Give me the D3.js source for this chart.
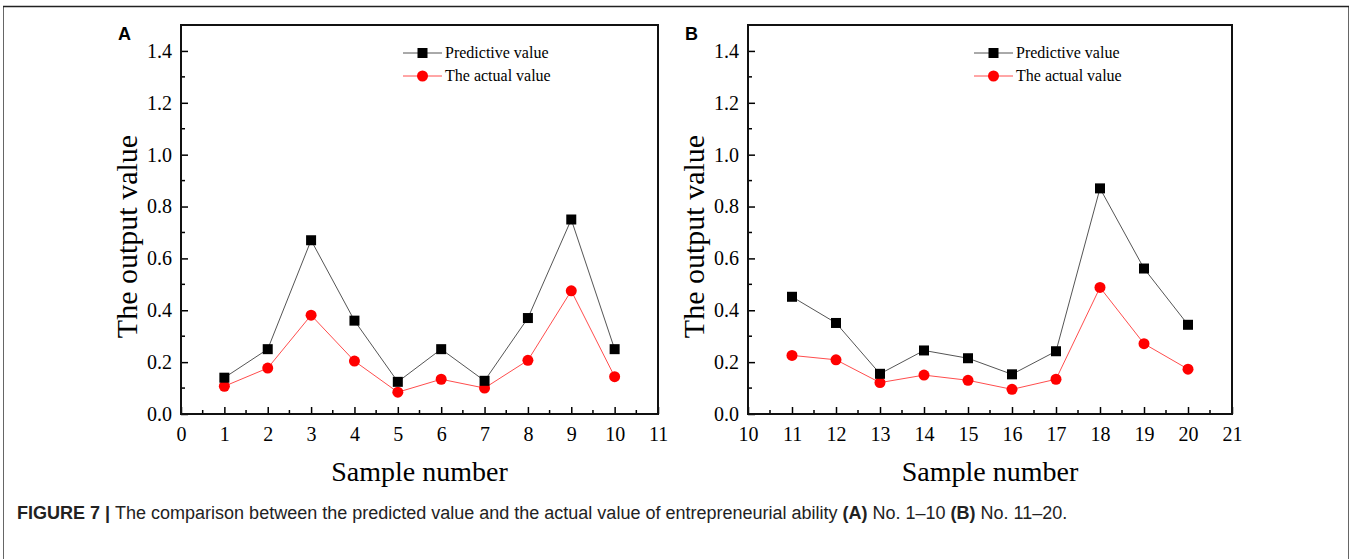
<!DOCTYPE html>
<html>
<head>
<meta charset="utf-8">
<script src="https://cdn.jsdelivr.net/npm/d3@7"></script>
<style>
  body { margin: 0; background: #fff; }
  svg { display: block; }
</style>
</head>
<body>
<div id="chart-area"></div>
<script>
// data
var samplesA = [1, 2, 3, 4, 5, 6, 7, 8, 9, 10];
var predictedA = [0.14, 0.25, 0.67, 0.36, 0.124, 0.25, 0.128, 0.37, 0.75, 0.25];
var actualA = [0.107, 0.177, 0.381, 0.204, 0.084, 0.134, 0.100, 0.207, 0.475, 0.144];

var samplesB = [11, 12, 13, 14, 15, 16, 17, 18, 19, 20];
var predictedB = [0.452, 0.351, 0.155, 0.245, 0.215, 0.153, 0.242, 0.87, 0.561, 0.344];
var actualB = [0.226, 0.209, 0.121, 0.150, 0.130, 0.095, 0.134, 0.488, 0.271, 0.173];

var yTicks = [0, 0.2, 0.4, 0.6, 0.8, 1.0, 1.2, 1.4];
var legendLabels = ["Predictive value", "The actual value"];

var W = 1352, H = 559;
var serif = "'Liberation Serif', 'Times New Roman', serif";
var sans = "'Liberation Sans', Arial, sans-serif";

var svg = d3.select("#chart-area")
    .append("svg")
        .attr("width", W)
        .attr("height", H);

// figure frame
svg.append("rect")
    .attr("x", 3.5).attr("y", 6.5)
    .attr("width", 1345).attr("height", 560)
    .attr("fill", "none")
    .attr("stroke", "#666")
    .attr("stroke-width", 1);
svg.append("line")
    .attr("x1", 3).attr("x2", 1349)
    .attr("y1", 6.5).attr("y2", 6.5)
    .attr("stroke", "#222").attr("stroke-width", 1.5);

function panel(opt) {
    var left = opt.left, right = opt.right, top = 25, bottom = 414;

    var x = d3.scaleLinear().domain(opt.xDomain).range([left, right]);
    var y = d3.scaleLinear().domain([0, 1.5]).range([bottom, top]);

    var g = svg.append("g");

    // panel letter
    g.append("text")
        .attr("x", opt.left - 63)
        .attr("y", 40)
        .attr("font-family", sans)
        .attr("font-weight", "bold")
        .attr("font-size", "18px")
        .text(opt.letter);

    // x axis with inward ticks
    var xMajor = d3.range(opt.xDomain[0], opt.xDomain[1] + 1);
    var xMinor = d3.range(opt.xDomain[0] + 0.5, opt.xDomain[1], 1);
    var xAxis = g.append("g").attr("transform", "translate(0," + bottom + ")");
    xAxis.call(d3.axisBottom(x).tickValues(xMajor).tickSize(-7).tickPadding(13).tickFormat(d3.format("d")));
    xAxis.selectAll(".minor")
        .data(xMinor)
        .enter().append("line")
        .attr("class", "minor")
        .attr("x1", function(d){ return x(d); })
        .attr("x2", function(d){ return x(d); })
        .attr("y1", 0).attr("y2", -4)
        .attr("stroke", "#000").attr("stroke-width", 1.5);

    // y axis with inward ticks
    var yAxis = g.append("g").attr("transform", "translate(" + left + ",0)");
    yAxis.call(d3.axisLeft(y).tickValues(yTicks).tickSize(-7).tickPadding(9).tickFormat(d3.format(".1f")));
    var yMinor = d3.range(1, 15, 2).map(function(v){ return v / 10; });
    yAxis.selectAll(".minor")
        .data(yMinor)
        .enter().append("line")
        .attr("class", "minor")
        .attr("x1", 0).attr("x2", 4)
        .attr("y1", function(d){ return y(d); })
        .attr("y2", function(d){ return y(d); })
        .attr("stroke", "#000").attr("stroke-width", 1.5);

    [xAxis, yAxis].forEach(function(a) {
        a.select(".domain").remove();
        a.selectAll(".tick line").attr("stroke", "#000").attr("stroke-width", 1.5);
        a.selectAll("text")
            .attr("font-family", serif)
            .attr("font-size", "20px")
            .attr("fill", "#000");
    });

    // plot frame
    g.append("rect")
        .attr("x", left).attr("y", top)
        .attr("width", right - left).attr("height", bottom - top)
        .attr("fill", "none")
        .attr("stroke", "#111")
        .attr("stroke-width", 2);

    // axis titles
    g.append("text")
        .attr("x", (left + right) / 2)
        .attr("y", 481)
        .attr("text-anchor", "middle")
        .attr("font-family", serif)
        .attr("font-size", "28px")
        .text("Sample number");

    g.append("text")
        .attr("transform", "translate(" + (left - 44) + "," + ((top + bottom) / 2 + 17) + ") rotate(-90)")
        .attr("text-anchor", "middle")
        .attr("font-family", serif)
        .attr("font-size", "30px")
        .text("The output value");

    var line = d3.line()
        .x(function(d){ return x(d[0]); })
        .y(function(d){ return y(d[1]); });

    var pred = opt.samples.map(function(s, i){ return [s, opt.predicted[i]]; });
    var act = opt.samples.map(function(s, i){ return [s, opt.actual[i]]; });

    g.append("path").datum(act)
        .attr("d", line)
        .attr("fill", "none")
        .attr("stroke", "#ff4d4d")
        .attr("stroke-width", 1);

    g.append("path").datum(pred)
        .attr("d", line)
        .attr("fill", "none")
        .attr("stroke", "#555")
        .attr("stroke-width", 1);

    g.selectAll(".act")
        .data(act)
        .enter().append("circle")
        .attr("class", "act")
        .attr("cx", function(d){ return x(d[0]); })
        .attr("cy", function(d){ return y(d[1]); })
        .attr("r", 5.5)
        .attr("fill", "#ff0000");

    g.selectAll(".pred")
        .data(pred)
        .enter().append("rect")
        .attr("class", "pred")
        .attr("x", function(d){ return x(d[0]) - 5; })
        .attr("y", function(d){ return y(d[1]) - 5; })
        .attr("width", 10).attr("height", 10)
        .attr("fill", "#000");

    // legend
    var lx = opt.legendX;
    var rows = [
        { label: legendLabels[0], stroke: "#555", fill: "#000", shape: "square", y: 53 },
        { label: legendLabels[1], stroke: "#ff4d4d", fill: "#ff0000", shape: "circle", y: 76 }
    ];
    rows.forEach(function(r) {
        g.append("line")
            .attr("x1", lx).attr("x2", lx + 39)
            .attr("y1", r.y).attr("y2", r.y)
            .attr("stroke", r.stroke).attr("stroke-width", 1);
        if (r.shape === "square") {
            g.append("rect")
                .attr("x", lx + 14.5).attr("y", r.y - 5)
                .attr("width", 10).attr("height", 10)
                .attr("fill", r.fill);
        } else {
            g.append("circle")
                .attr("cx", lx + 19.5).attr("cy", r.y)
                .attr("r", 5.5)
                .attr("fill", r.fill);
        }
        g.append("text")
            .attr("x", lx + 42)
            .attr("y", r.y + 5)
            .attr("font-family", serif)
            .attr("font-size", "16px")
            .text(r.label);
    });
}

panel({ letter: "A", left: 181, right: 658, xDomain: [0, 11],
        samples: samplesA, predicted: predictedA, actual: actualA, legendX: 403 });
panel({ letter: "B", left: 748, right: 1232, xDomain: [10, 21],
        samples: samplesB, predicted: predictedB, actual: actualB, legendX: 974 });

// caption
var cap = svg.append("text")
    .attr("x", 17)
    .attr("y", 519)
    .attr("font-family", sans)
    .attr("font-size", "18px")
    .attr("fill", "#222");
cap.append("tspan").attr("font-weight", "bold").text("FIGURE 7 | ");
cap.append("tspan").text("The comparison between the predicted value and the actual value of entrepreneurial ability ");
cap.append("tspan").attr("font-weight", "bold").text("(A)");
cap.append("tspan").text(" No. 1\u201310 ");
cap.append("tspan").attr("font-weight", "bold").text("(B)");
cap.append("tspan").text(" No. 11\u201320.");
</script>
</body>
</html>
